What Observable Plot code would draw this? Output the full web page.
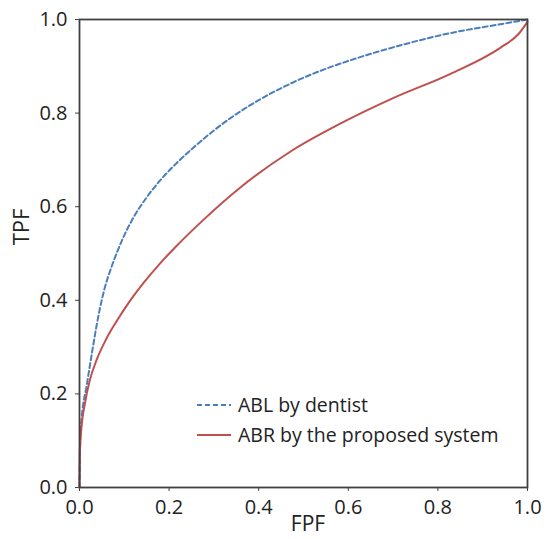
<!DOCTYPE html>
<html><head><meta charset="utf-8">
<script src="https://cdn.jsdelivr.net/npm/d3@7"></script>
<script src="https://cdn.jsdelivr.net/npm/@observablehq/plot@0.6"></script>
<style>html,body{margin:0;padding:0;background:#fff;}</style>
</head><body><div id="chart"></div>
<script>
// ABL by dentist (blue dashed)
const ablFPF = [0, 0.002, 0.005, 0.0156, 0.027, 0.038, 0.045, 0.056, 0.071, 0.086, 0.101, 0.123, 0.150, 0.179, 0.2165, 0.254, 0.322, 0.397, 0.471, 0.545, 0.605, 0.717, 0.828, 0.940, 1.0];
const ablTPF = [0, 0.110, 0.150, 0.215, 0.283, 0.345, 0.380, 0.425, 0.470, 0.508, 0.541, 0.581, 0.620, 0.655, 0.693, 0.726, 0.779, 0.826, 0.863, 0.893, 0.913, 0.945, 0.971, 0.990, 1.0];
// ABR by the proposed system (red solid)
const abrFPF = [0, 0.0007, 0.0045, 0.012, 0.023, 0.038, 0.060, 0.086, 0.105, 0.142, 0.179, 0.2165, 0.270, 0.359, 0.471, 0.583, 0.700, 0.828, 0.940, 0.980, 1.0];
const abrTPF = [0, 0.072, 0.129, 0.179, 0.229, 0.272, 0.318, 0.360, 0.388, 0.436, 0.478, 0.516, 0.566, 0.641, 0.718, 0.778, 0.832, 0.884, 0.940, 0.969, 0.995];
const xTicks = [0, 0.2, 0.4, 0.6, 0.8, 1.0];
const yTicks = [0, 0.2, 0.4, 0.6, 0.8, 1.0];
const seriesNames = ["ABL by dentist", "ABR by the proposed system"];
const xLabel = "FPF";
const yLabel = "TPF";

const ablData = ablFPF.map((f, i) => ({fpf: f, tpf: ablTPF[i]}));
const abrData = abrFPF.map((f, i) => ({fpf: f, tpf: abrTPF[i]}));

const blue = "#4a7ebb", red = "#c0504d", axisCol = "#404040";

const chart = Plot.plot({
  width: 550, height: 539,
  marginLeft: 79, marginRight: 23, marginTop: 19, marginBottom: 52,
  style: {fontFamily: "'Open Sans', sans-serif", fontSize: "20px", color: "#222", background: "#fff", overflow: "visible"},
  x: {domain: [0, 1]},
  y: {domain: [0, 1]},
  marks: [
    Plot.axisX({ticks: xTicks, tickFormat: d3.format(".1f"), tickSize: 4, tickPadding: 8, label: null, stroke: axisCol, fontSize: 20}),
    Plot.axisY({ticks: yTicks, tickFormat: d3.format(".1f"), tickSize: 4, tickPadding: 8, label: null, stroke: axisCol, fontSize: 20}),
    Plot.line(ablData, {x: "fpf", y: "tpf", stroke: blue, strokeWidth: 2, strokeDasharray: "5,3", curve: "monotone-x"}),
    Plot.line(abrData, {x: "fpf", y: "tpf", stroke: red, strokeWidth: 2, curve: "monotone-x"}),
    Plot.frame({stroke: axisCol, strokeWidth: 1.8})
  ]
});
document.getElementById("chart").append(chart);

const svg = d3.select(chart);
// Axis titles
svg.append("text").attr("x", 308).attr("y", 524).attr("dy", "0.35em")
  .attr("text-anchor", "middle").attr("font-size", 21).attr("fill", "#222").text(xLabel);
svg.append("text").attr("transform", "translate(21,227) rotate(-90)").attr("dy", "0.35em")
  .attr("text-anchor", "middle").attr("font-size", 22).attr("fill", "#222").text(yLabel);

// Legend inside the plot area
const legend = svg.append("g").attr("font-family", "'Open Sans', sans-serif").attr("font-size", 19.5)
  .attr("fill", "#222").attr("text-anchor", "start");
const items = [
  {name: seriesNames[0], color: blue, dash: "5,3", y: 405},
  {name: seriesNames[1], color: red, dash: null, y: 435}
];
items.forEach(it => {
  legend.append("line").attr("x1", 197).attr("x2", 231).attr("y1", it.y).attr("y2", it.y)
    .attr("stroke", it.color).attr("stroke-width", 2).attr("stroke-dasharray", it.dash);
  legend.append("text").attr("x", 238).attr("y", it.y).attr("dy", "0.35em")
    .attr("text-anchor", "start").text(it.name);
});
</script>
</body></html>
